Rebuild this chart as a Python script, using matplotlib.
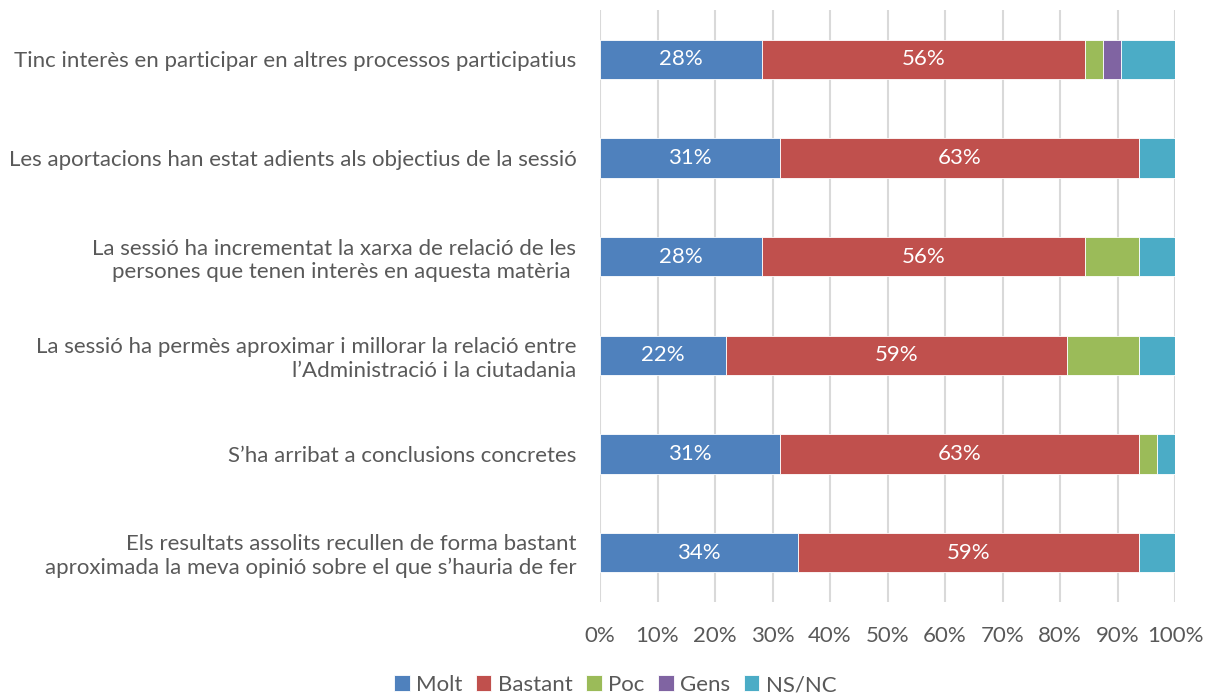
import matplotlib
matplotlib.use("Agg")
import matplotlib.pyplot as plt
import numpy as np

plt.rcParams['font.family'] = ['Lato', 'DejaVu Sans']

categories = [
    "Tinc interès en participar en altres processos participatius",
    "Les aportacions han estat adients als objectius de la sessió",
    "La sessió ha incrementat la xarxa de relació de les\npersones que tenen interès en aquesta matèria ",
    "La sessió ha permès aproximar i millorar la relació entre\nl\u2019Administració i la ciutadania",
    "S\u2019ha arribat a conclusions concretes",
    "Els resultats assolits recullen de forma bastant\naproximada la meva opinió sobre el que s\u2019hauria de fer",
]
series_names = ["Molt", "Bastant", "Poc", "Gens", "NS/NC"]
molt = [28.125, 31.25, 28.125, 21.875, 31.25, 34.375]
bastant = [56.25, 62.5, 56.25, 59.375, 62.5, 59.375]
poc = [3.125, 0, 9.375, 12.5, 3.125, 0]
gens = [3.125, 0, 0, 0, 0, 0]
nsnc = [9.375, 6.25, 6.25, 6.25, 3.125, 6.25]
xticks = [0, 10, 20, 30, 40, 50, 60, 70, 80, 90, 100]

colors = ["#4F81BD", "#C0504D", "#9BBB59", "#8064A2", "#4BACC6"]
txt = "#595959"
fs = 16

fig = plt.figure(figsize=(12.16, 6.98), dpi=100)
ax = fig.add_axes([600/1216, 1 - 602/698, 575/1216, 592/698])

y = np.arange(len(categories))
left = np.zeros(len(categories))
data = [molt, bastant, poc, gens, nsnc]
for name, vals, c in zip(series_names, data, colors):
    vals = np.array(vals)
    ax.barh(y, vals, left=left, height=0.4, color=c, label=name,
            edgecolor="white", linewidth=0.6, zorder=3)
    if name in ("Molt", "Bastant"):
        for yi, l, v in zip(y, left, vals):
            ax.text(l + v / 2, yi, f"{int(v + 0.5):d}%", ha="center", va="center",
                    color="white", fontsize=fs, zorder=4)
    left += vals

ax.set_xlim(0, 100)
ax.set_ylim(len(categories) - 0.5, -0.5)
ax.set_yticks(y)
ax.set_yticklabels(categories, fontsize=fs, color=txt, linespacing=1.2)
ax.set_xticks(xticks)
ax.set_xticklabels([f"{t}%" for t in xticks], fontsize=fs, color=txt)
ax.tick_params(axis="y", length=0, pad=17)
ax.tick_params(axis="x", length=0, pad=17)
ax.grid(axis="x", color="#D9D9D9", linewidth=1.5, zorder=0)
for s in ax.spines.values():
    s.set_visible(False)

fig.legend(loc="center", bbox_to_anchor=(0.506, 1 - 685/698), ncol=5,
           frameon=False, fontsize=fs, labelcolor=txt, handlelength=0.7,
           handleheight=0.7, handletextpad=0.3, columnspacing=0.6)

fig.savefig("out.png", dpi=100)
